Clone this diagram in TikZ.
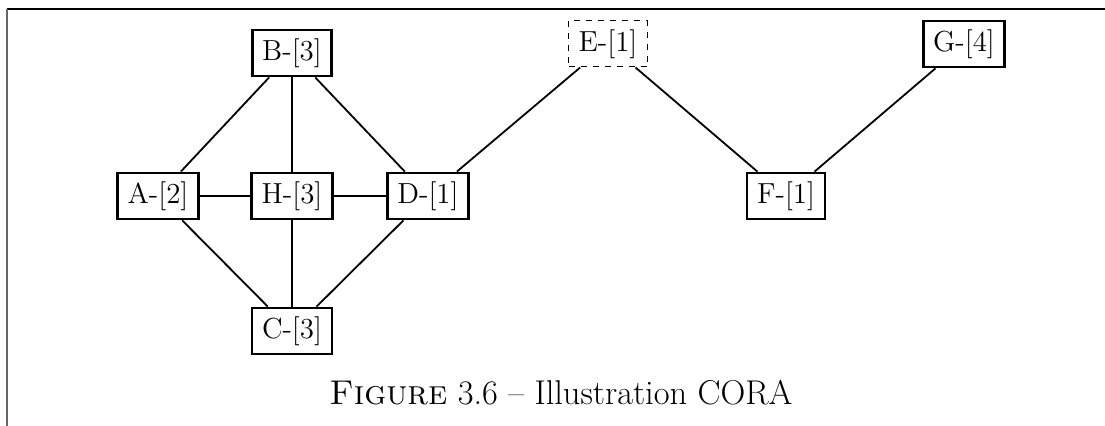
\documentclass[tikz,border=0pt]{standalone}
\begin{document}
\begin{tikzpicture}[x=0.5pt,y=-0.5pt,
  vbox/.style={draw, line width=1.4pt, fill=white, font=\fontsize{14.5}{17}\selectfont, inner xsep=5pt, minimum height=23pt},
  dbox/.style={draw, dashed, line width=0.5pt, fill=white, font=\fontsize{14.5}{17}\selectfont, inner xsep=5pt, minimum height=23pt},
  edge/.style={line width=0.9pt}]
\useasboundingbox (0,0) rectangle (1105,426);
\draw[line width=0.8pt] (7,9) -- (1105,9);
\draw[line width=1pt, black!60] (7,9) -- (7,426);
\node[vbox] (B) at (292,53) {B-[3]};
\node[dbox] (E) at (608,44) {E-[1]};
\node[vbox] (G) at (964,44) {G-[4]};
\node[vbox] (A) at (158,196) {A-[2]};
\node[vbox] (H) at (292,196) {H-[3]};
\node[vbox] (D) at (428,196) {D-[1]};
\node[vbox] (F) at (786,196) {F-[1]};
\node[vbox] (C) at (292,331) {C-[3]};
\draw[edge] (B) -- (A);
\draw[edge] (B) -- (H);
\draw[edge] (B) -- (D);
\draw[edge] (A) -- (H);
\draw[edge] (H) -- (D);
\draw[edge] (A) -- (C);
\draw[edge] (H) -- (C);
\draw[edge] (D) -- (C);
\draw[edge] (D) -- (E);
\draw[edge] (E) -- (F);
\draw[edge] (F) -- (G);
\node[font=\fontsize{17.2}{20}\selectfont, anchor=base] (cap) at (561,405) {\textsc{Figure} 3.6 -- Illustration CORA};
\end{tikzpicture}
\end{document}
